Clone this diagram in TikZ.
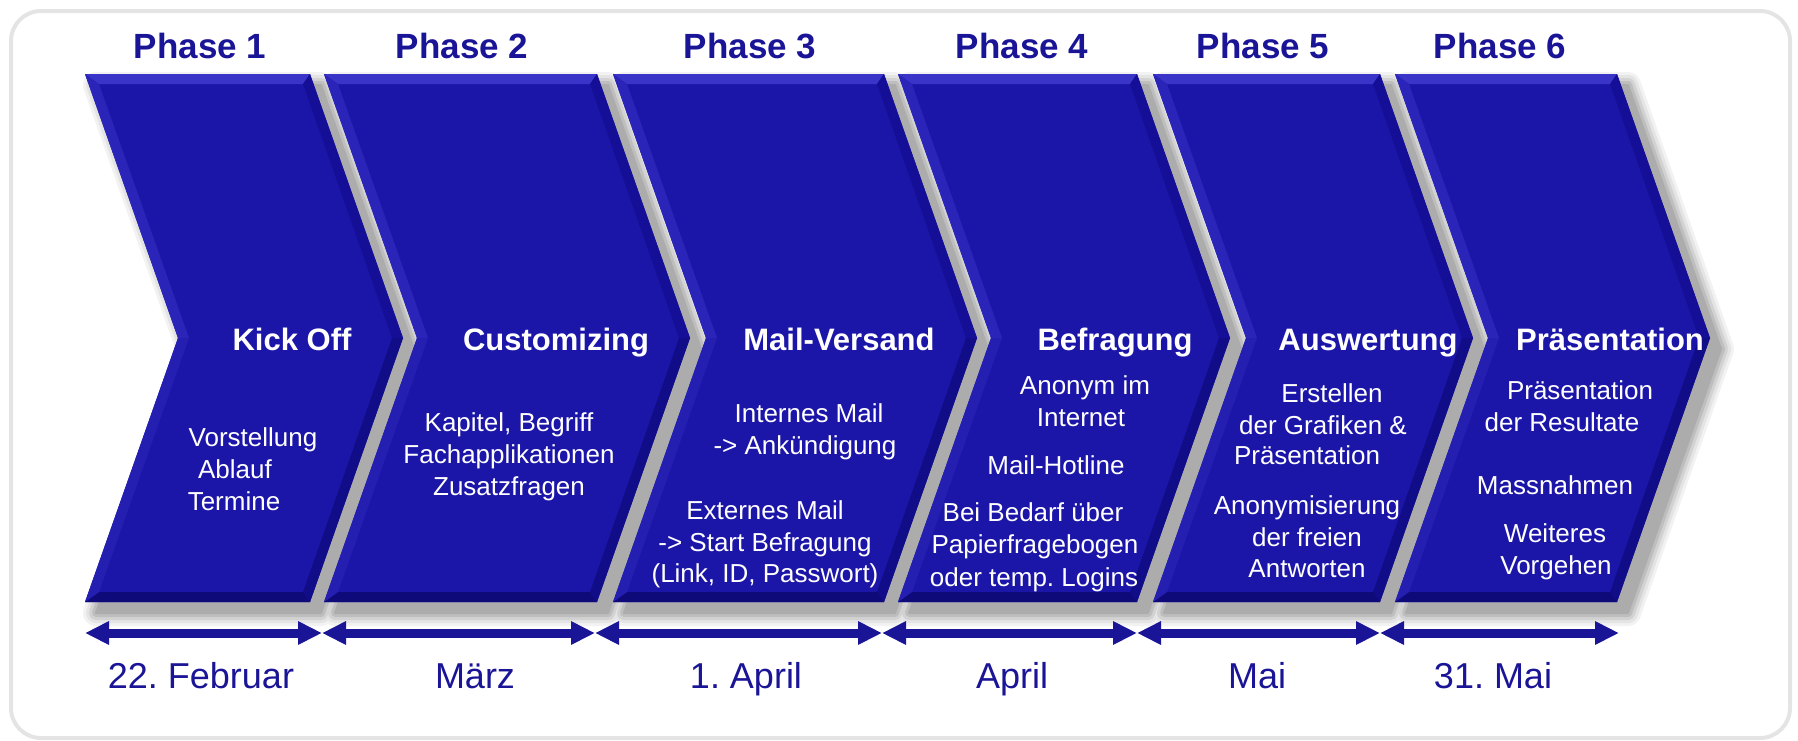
\documentclass[tikz,border=0pt]{standalone}
\usepackage{fontspec}
\setmainfont{Liberation Sans}
\usetikzlibrary{arrows.meta}
\frenchspacing
\definecolor{chev}{RGB}{28,22,168}
\definecolor{chevtop}{RGB}{58,52,200}
\definecolor{chevul}{RGB}{42,36,184}
\definecolor{chevll}{RGB}{36,31,176}
\definecolor{chevur}{RGB}{20,15,150}
\definecolor{chevlr}{RGB}{17,13,136}
\definecolor{chevbot}{RGB}{14,10,122}
\definecolor{ink}{RGB}{26,20,150}
\definecolor{framecol}{RGB}{228,228,228}
\tikzset{
  phase/.style={text=ink, font=\bfseries\fontsize{35}{40}\selectfont, anchor=base, inner sep=0pt},
  title/.style={text=white, font=\bfseries\fontsize{31}{36}\selectfont, anchor=base, inner sep=0pt},
  body/.style={text=white, font=\fontsize{26}{32}\selectfont, anchor=base, inner sep=0pt},
  datelab/.style={text=ink, font=\fontsize{36}{40}\selectfont, anchor=base, inner sep=0pt},
  dbl/.style={draw=ink, line width=9pt,
    {Triangle[length=24pt,width=22pt]}-{Triangle[length=24pt,width=22pt]}},
}
\newcommand\bl[4]{\node[body] (#1) at (#2,#3) {#4};}
\begin{document}
\begin{tikzpicture}[x=1pt,y=-1pt]
\useasboundingbox (0,0) rectangle (1798,740);
\draw[framecol, line width=4pt, rounded corners=30pt] (11,11) rectangle (1790,738);
\def\dd{93}
% soft shadows
\foreach \w/\g in {26/242,20/228,14/210,8/190,2/172}{
  \definecolor{shd}{RGB}{\g,\g,\g}
  \foreach \L/\R in {85/310,324/597,613/884,898/1137,1153/1380,1395/1617}{
    \filldraw[fill=shd, draw=shd, line width=\w pt, line join=round, shift={(11,11)}]
      (\L,74) -- (\R,74) -- ({\R+\dd},338) -- (\R,602) -- (\L,602) -- ({\L+\dd},338) -- cycle;
  }
}
% chevrons with bevel
\foreach \L/\R in {85/310,324/597,613/884,898/1137,1153/1380,1395/1617}{
  \fill[chev] (\L,74) -- (\R,74) -- ({\R+\dd},338) -- (\R,602) -- (\L,602) -- ({\L+\dd},338) -- cycle;
  \fill[chevtop] (\L,74) -- (\R,74) -- ({\R-7},84) -- ({\L+14},84) -- cycle;
  \fill[chevur] (\R,74) -- ({\R+\dd},338) -- ({\R+\dd-11},338) -- ({\R-7},84) -- cycle;
  \fill[chevlr] ({\R+\dd},338) -- (\R,602) -- ({\R-7},592) -- ({\R+\dd-11},338) -- cycle;
  \fill[chevbot] (\R,602) -- (\L,602) -- ({\L+14},592) -- ({\R-7},592) -- cycle;
  \fill[chevll] (\L,602) -- ({\L+\dd},338) -- ({\L+\dd+11},338) -- ({\L+14},592) -- cycle;
  \fill[chevul] ({\L+\dd},338) -- (\L,74) -- ({\L+14},84) -- ({\L+\dd+11},338) -- cycle;
}
% phase labels
\node[phase] (p1) at (200,58) {Phase 1};
\node[phase] (p2) at (462,58) {Phase 2};
\node[phase] (p3) at (750,58) {Phase 3};
\node[phase] (p4) at (1022,58) {Phase 4};
\node[phase] (p5) at (1263,58) {Phase 5};
\node[phase] (p6) at (1500,58) {Phase 6};
% titles
\node[title] (t1) at (292,350) {Kick Off};
\node[title] (t2) at (556,350) {Customizing};
\node[title] (t3) at (839,350) {Mail-Versand};
\node[title] (t4) at (1115,350) {Befragung};
\node[title] (t5) at (1368,350) {Auswertung};
\node[title] (t6) at (1610,350) {Präsentation};
% body texts
\bl{b1a}{253}{446}{Vorstellung}
\bl{b1b}{235}{478}{Ablauf}
\bl{b1c}{234}{510}{Termine}
\bl{b2a}{509}{431}{Kapitel, Begriff}
\bl{b2b}{509}{463}{Fachapplikationen}
\bl{b2c}{509}{495}{Zusatzfragen}
\bl{b3a}{809}{422}{Internes Mail}
\bl{b3b}{805}{454}{-> Ankündigung}
\bl{b3c}{765}{519}{Externes Mail}
\bl{b3d}{765}{551}{-> Start Befragung}
\bl{b3e}{765}{582}{(Link, ID, Passwort)}
\bl{b4a}{1085}{394}{Anonym im}
\bl{b4b}{1081}{426}{Internet}
\bl{b4c}{1056}{474}{Mail-Hotline}
\bl{b4d}{1033}{521}{Bei Bedarf über}
\bl{b4e}{1035}{553}{Papierfragebogen}
\bl{b4f}{1034}{586}{oder temp. Logins}
\bl{b5a}{1332}{402}{Erstellen}
\bl{b5b}{1323}{434}{der Grafiken \&}
\bl{b5c}{1307}{464}{Präsentation}
\bl{b5d}{1307}{514}{Anonymisierung}
\bl{b5e}{1307}{546}{der freien}
\bl{b5f}{1307}{577}{Antworten}
\bl{b6a}{1580}{399}{Präsentation}
\bl{b6b}{1562}{431}{der Resultate}
\bl{b6c}{1555}{494}{Massnahmen}
\bl{b6d}{1555}{542}{Weiteres}
\bl{b6e}{1556}{574}{Vorgehen}
% timeline arrows
\coordinate (a0) at (85,633);
\coordinate (a1) at (322,633);
\coordinate (a2) at (595,633);
\coordinate (a3) at (882,633);
\coordinate (a4) at (1137,633);
\coordinate (a5) at (1380,633);
\coordinate (a6) at (1619,633);
\draw[dbl] (a0) -- (a1);
\draw[dbl] (a1) -- (a2);
\draw[dbl] (a2) -- (a3);
\draw[dbl] (a3) -- (a4);
\draw[dbl] (a4) -- (a5);
\draw[dbl] (a5) -- (a6);
% dates
\node[datelab] (d1) at (201,688) {22. Februar};
\node[datelab] (d2) at (475,688) {März};
\node[datelab] (d3) at (746,688) {1. April};
\node[datelab] (d4) at (1012,688) {April};
\node[datelab] (d5) at (1257,688) {Mai};
\node[datelab] (d6) at (1493,688) {31. Mai};
\end{tikzpicture}
\end{document}
